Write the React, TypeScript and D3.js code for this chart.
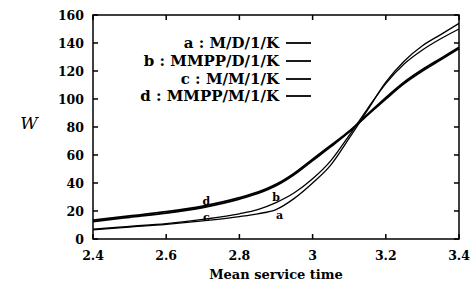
import React, { useEffect, useRef } from 'react';
import * as d3 from 'd3';

// values
const serviceTime = [2.4, 2.5, 2.6, 2.7, 2.8, 2.85, 2.9, 2.95, 3.0, 3.05, 3.1, 3.15, 3.2, 3.25, 3.3, 3.35, 3.4];
const seriesA = [6.5, 8.5, 10.5, 13, 16, 18, 21, 29, 40, 53, 72, 92, 112, 127, 138, 146, 154];
const seriesB = [7, 9, 11, 14, 18, 21, 26, 33, 43, 56, 74, 93, 111, 125, 135, 143, 150];
const seriesC = [12.5, 15.5, 18.5, 22.5, 28.5, 32.5, 38, 46, 56, 66, 76.5, 88.5, 100, 111, 120, 128, 136];
const seriesD = [13.5, 16.5, 19.5, 23.5, 29.5, 33.5, 39, 47, 57, 67, 77, 89, 101, 112, 121, 129, 137];
const legendLabels = ['a : M/D/1/K', 'b : MMPP/D/1/K', 'c : M/M/1/K', 'd : MMPP/M/1/K'];
const xTicks = [2.4, 2.6, 2.8, 3, 3.2, 3.4];
const xTickLabels = ['2.4', '2.6', '2.8', '3', '3.2', '3.4'];
const yTicks = [0, 20, 40, 60, 80, 100, 120, 140, 160];

const App = () => {
  const ref = useRef(null);

  useEffect(() => {
    const svg = d3.select(ref.current);
    svg.selectAll('*').remove();

    const left = 93, right = 459, top = 15, bottom = 239;
    const font = '"DejaVu Serif", "Liberation Serif", serif';

    const x = d3.scaleLinear().domain([2.4, 3.4]).range([left, right]);
    const y = d3.scaleLinear().domain([0, 160]).range([bottom, top]);

    // frame
    svg.append('rect')
      .attr('x', left).attr('y', top)
      .attr('width', right - left).attr('height', bottom - top)
      .attr('fill', 'none').attr('stroke', 'black').attr('stroke-width', 1.5);

    // inward ticks on all sides
    const tk = 5;
    svg.selectAll('.xtick')
      .data(xTicks)
      .enter()
      .append('path')
      .attr('d', d => `M${x(d)},${bottom}v${-tk}M${x(d)},${top}v${tk}`)
      .attr('stroke', 'black').attr('stroke-width', 1.5);
    svg.selectAll('.ytick')
      .data(yTicks)
      .enter()
      .append('path')
      .attr('d', d => `M${left},${y(d)}h${tk}M${right},${y(d)}h${-tk}`)
      .attr('stroke', 'black').attr('stroke-width', 1.5);

    svg.selectAll('.xlab')
      .data(xTicks)
      .enter()
      .append('text')
      .attr('x', d => x(d))
      .attr('y', 260)
      .attr('text-anchor', 'middle')
      .attr('font-family', font).attr('font-weight', 'bold').attr('font-size', '12.5px')
      .text((d, i) => xTickLabels[i]);

    svg.selectAll('.ylab')
      .data(yTicks)
      .enter()
      .append('text')
      .attr('x', 84)
      .attr('y', d => y(d) + 4.5)
      .attr('text-anchor', 'end')
      .attr('font-family', font).attr('font-weight', 'bold').attr('font-size', '12.5px')
      .text(d => d);

    svg.append('text')
      .attr('x', (left + right) / 2).attr('y', 279)
      .attr('text-anchor', 'middle')
      .attr('font-family', font).attr('font-weight', 'bold').attr('font-size', '13px')
      .text('Mean service time');

    svg.append('text')
      .attr('x', 29).attr('y', 129)
      .attr('text-anchor', 'middle')
      .attr('font-family', font).attr('font-style', 'italic').attr('font-size', '17px')
      .text('W');

    const line = d3.line()
      .x((d, i) => x(serviceTime[i]))
      .y(d => y(d))
      .curve(d3.curveMonotoneX);

    const series = [
      { v: seriesA, w: 1.3 },
      { v: seriesB, w: 1.3 },
      { v: seriesC, w: 1.8 },
      { v: seriesD, w: 1.8 },
    ];
    svg.selectAll('.curve')
      .data(series)
      .enter()
      .append('path')
      .attr('d', d => line(d.v))
      .attr('fill', 'none')
      .attr('stroke', 'black')
      .attr('stroke-width', d => d.w);

    // legend
    const rows = [43, 61, 79, 96];
    legendLabels.forEach((t, i) => {
      svg.append('text')
        .attr('x', 279).attr('y', rows[i] + 5)
        .attr('text-anchor', 'end')
        .attr('font-family', font).attr('font-weight', 'bold').attr('font-size', '15px')
        .text(t);
      svg.append('line')
        .attr('x1', 286).attr('x2', 311)
        .attr('y1', rows[i]).attr('y2', rows[i])
        .attr('stroke', 'black').attr('stroke-width', 1.8);
    });

    // curve labels
    const curveLabels = [
      { t: 'd', xv: 2.71, yv: 27 },
      { t: 'c', xv: 2.71, yv: 16 },
      { t: 'b', xv: 2.9, yv: 30 },
      { t: 'a', xv: 2.91, yv: 17 },
    ];
    svg.selectAll('.clab')
      .data(curveLabels)
      .enter()
      .append('text')
      .attr('x', d => x(d.xv))
      .attr('y', d => y(d.yv) + 4)
      .attr('text-anchor', 'middle')
      .attr('font-family', font).attr('font-weight', 'bold').attr('font-size', '11px')
      .text(d => d.t);
  }, []);

  return (
    <svg ref={ref} width={476} height={286}
      style={{ position: 'absolute', left: 0, top: 0, background: 'white' }} />
  );
};

export default App;
